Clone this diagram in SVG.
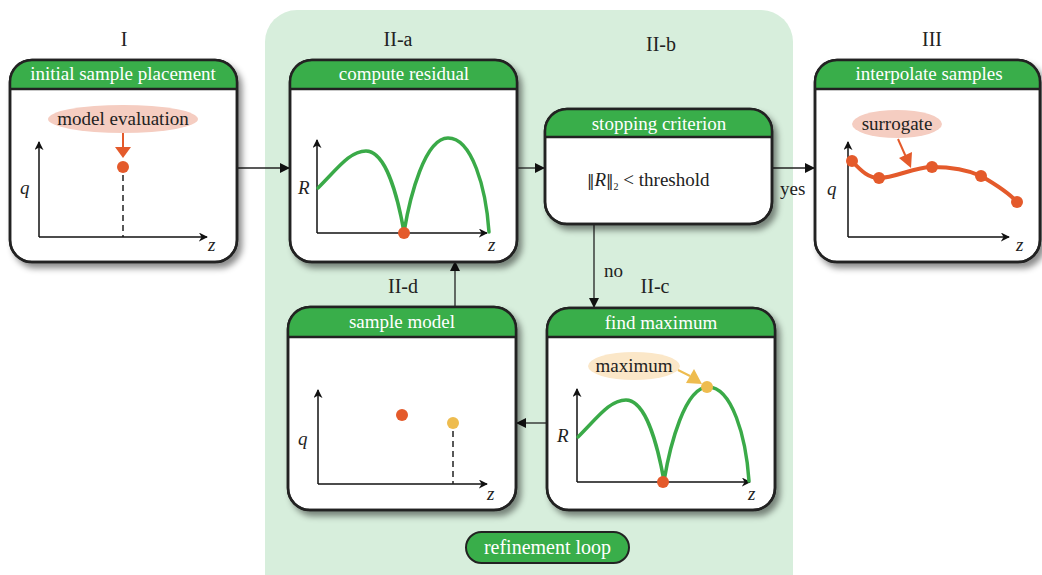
<svg xmlns="http://www.w3.org/2000/svg" width="1042" height="575" viewBox="0 0 1042 575" font-family="'Liberation Serif', serif">
<defs>
<filter id="sh" x="-10%" y="-10%" width="130%" height="130%">
<feDropShadow dx="4" dy="5" stdDeviation="3" flood-color="#000" flood-opacity="0.45"/>
</filter>
<marker id="ah" viewBox="0 0 10 10" refX="10" refY="5" markerWidth="10" markerHeight="10" markerUnits="userSpaceOnUse" orient="auto">
<path d="M0,0 L10,5 L0,10 Z" fill="#111"/>
</marker>
<marker id="ax" viewBox="0 0 10 10" refX="9" refY="5" markerWidth="9" markerHeight="9" markerUnits="userSpaceOnUse" orient="auto">
<path d="M0,0 L10,5 L0,10 L3,5 Z" fill="#111"/>
</marker>
</defs>
<style>
text{font-family:"Liberation Serif",serif;fill:#222}
.lbl{font-size:20px;text-anchor:middle}
.hd{font-size:19px;fill:#fff;text-anchor:middle}
.tx{font-size:19px;text-anchor:middle}
.it{font-style:italic;font-size:19px}
.nm{font-family:"DejaVu Sans",sans-serif;font-size:15px;fill:#222}
.box{fill:#fff;stroke:#222;stroke-width:2.5}
.hdr{fill:#39ae4a}
.hl{stroke:#222;stroke-width:2.5}
.axis{stroke:#111;stroke-width:1.5;fill:none;marker-end:url(#ax)}
.gc{fill:none;stroke:#3aaa48;stroke-width:3.5;stroke-linecap:round}
.oc{fill:none;stroke:#e45a2b;stroke-width:4;stroke-linecap:round}
.dash{stroke:#222;stroke-width:1.5;stroke-dasharray:6,4}
.con{stroke:#222;stroke-width:1.3;fill:none;marker-end:url(#ah)}
</style>
<rect x="265" y="10" width="528" height="620" rx="32" fill="#d7eedc"/>

<g id="labels">
<text class="lbl" x="124" y="46">I</text>
<text class="lbl" x="398" y="46">II-a</text>
<text class="lbl" x="661" y="51">II-b</text>
<text class="lbl" x="932" y="46">III</text>
<text class="lbl" x="403" y="293">II-d</text>
<text class="lbl" x="655" y="293">II-c</text>
</g>

<g id="connectors">
<line class="con" x1="237" y1="168" x2="290" y2="168"/>
<line class="con" x1="517" y1="168" x2="545" y2="168"/>
<line class="con" x1="772" y1="168" x2="815" y2="168"/>
<line class="con" x1="594" y1="224" x2="594" y2="308"/>
<line class="con" x1="547" y1="423" x2="516" y2="423"/>
<line class="con" x1="455" y1="307" x2="455" y2="261"/>
<text x="780" y="195" style="font-size:19px">yes</text>
<text x="604" y="277" style="font-size:19px">no</text>
</g>

<g id="n1">
<rect class="box" x="10" y="60" width="227" height="202" rx="22" filter="url(#sh)"/>
<path class="hdr" d="M10,89 V82 A22,22 0 0 1 32,60 H215 A22,22 0 0 1 237,82 V89 Z"/>
<line class="hl" x1="10" y1="89" x2="237" y2="89"/>
<rect x="10" y="60" width="227" height="202" rx="22" fill="none" stroke="#222" stroke-width="2.5"/>
<text class="hd" x="123" y="80">initial sample placement</text>
<ellipse cx="123" cy="119" rx="75" ry="14" fill="#f5cdc1"/>
<text class="tx" x="123" y="125">model evaluation</text>
<line x1="123" y1="133" x2="123" y2="148" stroke="#e45a2b" stroke-width="2"/>
<path d="M115,147 L131,147 L123,158 Z" fill="#e45a2b"/>
<circle cx="123" cy="167" r="6" fill="#e45a2b"/>
<line class="dash" x1="123" y1="175" x2="123" y2="237"/>
<path class="axis" d="M39,237 V142"/>
<path class="axis" d="M39,237 H207"/>
<text class="it" x="20" y="194">q</text>
<text class="it" x="208" y="251">z</text>
</g>

<g id="n2a">
<rect class="box" x="290" y="60" width="227" height="202" rx="22" filter="url(#sh)"/>
<path class="hdr" d="M290,89 V82 A22,22 0 0 1 312,60 H495 A22,22 0 0 1 517,82 V89 Z"/>
<line class="hl" x1="290" y1="89" x2="517" y2="89"/>
<rect x="290" y="60" width="227" height="202" rx="22" fill="none" stroke="#222" stroke-width="2.5"/>
<text class="hd" x="404" y="80">compute residual</text>
<path class="axis" d="M317,233 V140"/>
<path class="axis" d="M317,233 H487"/>
<path class="gc" d="M318,188 C338,168 350,151 366,151 C386,151 398,198 404,232 C410,196 425,138 448,138 C472,138 486,188 489,232"/>
<circle cx="404" cy="233" r="6" fill="#e45a2b"/>
<text class="it" x="298" y="194">R</text>
<text class="it" x="488" y="251">z</text>
</g>

<g id="n2b">
<rect class="box" x="545" y="109" width="227" height="115" rx="22" filter="url(#sh)"/>
<path class="hdr" d="M545,137 V131 A22,22 0 0 1 567,109 H750 A22,22 0 0 1 772,131 V137 Z"/>
<line class="hl" x1="545" y1="137" x2="772" y2="137"/>
<rect x="545" y="109" width="227" height="115" rx="22" fill="none" stroke="#222" stroke-width="2.5"/>
<text class="hd" x="659" y="130">stopping criterion</text>
<text x="587" y="186" style="font-size:19px"><tspan class="nm">‖</tspan><tspan font-style="italic">R</tspan><tspan class="nm">‖</tspan><tspan font-size="10" dy="4">2</tspan><tspan dy="-4"> &lt; threshold</tspan></text>
</g>

<g id="n3">
<rect class="box" x="815" y="60" width="225" height="202" rx="22" filter="url(#sh)"/>
<path class="hdr" d="M815,89 V82 A22,22 0 0 1 837,60 H1018 A22,22 0 0 1 1040,82 V89 Z"/>
<line class="hl" x1="815" y1="89" x2="1040" y2="89"/>
<rect x="815" y="60" width="225" height="202" rx="22" fill="none" stroke="#222" stroke-width="2.5"/>
<text class="hd" x="929" y="80">interpolate samples</text>
<path class="axis" d="M848,237 V142"/>
<path class="axis" d="M848,237 H1009"/>
<path class="oc" d="M852,161 C862,172 869,178 879,178 C895,178 914,167 932,167 C950,167 968,170 981,176 C995,184 1008,192 1017,202"/>
<circle cx="852" cy="161" r="6" fill="#e45a2b"/>
<circle cx="879" cy="178" r="6" fill="#e45a2b"/>
<circle cx="932" cy="167" r="6" fill="#e45a2b"/>
<circle cx="981" cy="176" r="6" fill="#e45a2b"/>
<circle cx="1017" cy="202" r="6" fill="#e45a2b"/>
<ellipse cx="897" cy="124" rx="45" ry="14" fill="#f5cdc1"/>
<text class="tx" x="897" y="130">surrogate</text>
<line x1="898" y1="139" x2="906" y2="157" stroke="#e45a2b" stroke-width="2"/>
<path d="M899,158 L912,152 L911,168 Z" fill="#e45a2b"/>
<text class="it" x="827" y="195">q</text>
<text class="it" x="1016" y="251">z</text>
</g>

<g id="n2c">
<rect class="box" x="547" y="308" width="228" height="202" rx="22" filter="url(#sh)"/>
<path class="hdr" d="M547,337 V330 A22,22 0 0 1 569,308 H753 A22,22 0 0 1 775,330 V337 Z"/>
<line class="hl" x1="547" y1="337" x2="775" y2="337"/>
<rect x="547" y="308" width="228" height="202" rx="22" fill="none" stroke="#222" stroke-width="2.5"/>
<text class="hd" x="661" y="329">find maximum</text>
<path class="axis" d="M577,482 V389"/>
<path class="axis" d="M577,482 H750"/>
<g transform="translate(260,249)">
<path class="gc" d="M318,188 C338,168 350,151 366,151 C386,151 398,198 404,232 C410,196 425,138 448,138 C472,138 486,188 489,232"/>
</g>
<circle cx="663" cy="482" r="6" fill="#e45a2b"/>
<circle cx="707" cy="387" r="6" fill="#eebc4f"/>
<ellipse cx="634" cy="366" rx="46" ry="14" fill="#fbe7c8"/>
<text class="tx" x="634" y="372">maximum</text>
<line x1="678" y1="370" x2="690" y2="376" stroke="#eebc4f" stroke-width="2"/>
<path d="M686,383 L694,369 L702,384 Z" fill="#eebc4f"/>
<text class="it" x="557" y="442">R</text>
<text class="it" x="748" y="500">z</text>
</g>

<g id="n2d">
<rect class="box" x="288" y="307" width="228" height="203" rx="22" filter="url(#sh)"/>
<path class="hdr" d="M288,337 V329 A22,22 0 0 1 310,307 H494 A22,22 0 0 1 516,329 V337 Z"/>
<line class="hl" x1="288" y1="337" x2="516" y2="337"/>
<rect x="288" y="307" width="228" height="203" rx="22" fill="none" stroke="#222" stroke-width="2.5"/>
<text class="hd" x="402" y="328">sample model</text>
<path class="axis" d="M318,484 V390"/>
<path class="axis" d="M318,484 H487"/>
<circle cx="402" cy="415" r="6" fill="#e45a2b"/>
<circle cx="453" cy="423" r="6" fill="#eebc4f"/>
<line class="dash" x1="453" y1="431" x2="453" y2="484"/>
<text class="it" x="298" y="445">q</text>
<text class="it" x="487" y="500">z</text>
</g>

<g id="loop">
<rect x="466" y="532" width="163" height="31" rx="15.5" fill="#39ae4a" stroke="#222" stroke-width="2"/>
<text x="547.5" y="554" style="font-size:20px;fill:#fff;text-anchor:middle">refinement loop</text>
</g>
</svg>
